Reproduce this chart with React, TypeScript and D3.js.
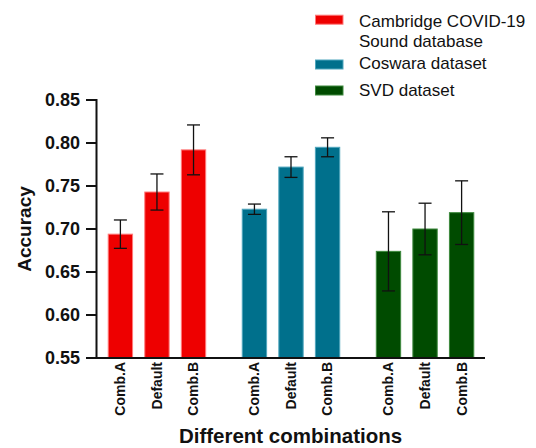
import React from "react";
import * as d3 from "d3";

const groups = ["Cambridge COVID-19 Sound database", "Coswara dataset", "SVD dataset"];
const legendLines = [["Cambridge COVID-19", "Sound database"], ["Coswara dataset"], ["SVD dataset"]];
const combos = ["Comb.A", "Default", "Comb.B"];
const cambridgeMean = [0.694, 0.743, 0.792];
const cambridgeErr = [0.0165, 0.021, 0.029];
const coswaraMean = [0.723, 0.772, 0.795];
const coswaraErr = [0.006, 0.012, 0.011];
const svdMean = [0.674, 0.700, 0.719];
const svdErr = [0.046, 0.030, 0.037];
const yTicks = [0.55, 0.6, 0.65, 0.7, 0.75, 0.8, 0.85];
const fills = ["#ee0000", "#00708c", "#004b00"];
const strokes = ["#ff7a7a", "#4fa6bd", "#3f8a3f"];

const means = [cambridgeMean, coswaraMean, svdMean];
const errs = [cambridgeErr, coswaraErr, svdErr];

export default function App() {
  const W = 536, H = 448;
  const axisX = 96.5, axisY = 358;
  const y = d3.scaleLinear().domain([0.55, 0.85]).range([axisY, 100]);
  const xg = d3.scaleBand<string>().domain(groups).range([102, 480]).paddingInner(0.18).paddingOuter(0);
  const xc = d3.scaleBand<string>().domain(combos).range([0, xg.bandwidth()]).paddingInner(0.334).paddingOuter(0.17);
  const font = "'Liberation Sans', Arial, sans-serif";
  const bw = xc.bandwidth();
  const legendY = [[26.5, 46.5], [69], [96]];
  const swatchY = [19.7, 64.5, 90.5];

  return (
    <svg width={W} height={H} style={{ position: "absolute", left: 0, top: 0 }} fontFamily={font}>
      <rect width={W} height={H} fill="#fff" />
      {groups.map((g, gi) =>
        combos.map((c, ci) => {
          const x0 = (xg(g) as number) + (xc(c) as number);
          const m = means[gi][ci];
          const e = errs[gi][ci];
          const cx = x0 + bw / 2;
          return (
            <g key={g + c}>
              <rect x={x0} y={y(m)} width={bw} height={axisY - y(m)} fill={fills[gi]} stroke={strokes[gi]} strokeWidth={1} />
              <line x1={cx} x2={cx} y1={y(m + e)} y2={y(m - e)} stroke="#111" strokeWidth={1.3} />
              <line x1={cx - 6.5} x2={cx + 6.5} y1={y(m + e)} y2={y(m + e)} stroke="#111" strokeWidth={1.3} />
              <line x1={cx - 6.5} x2={cx + 6.5} y1={y(m - e)} y2={y(m - e)} stroke="#111" strokeWidth={1.3} />
              <text
                transform={`translate(${cx},${axisY + 4}) rotate(-90)`}
                textAnchor="end"
                dy="0.35em"
                fontSize={14}
                fontWeight="bold"
                fill="#111"
              >
                {c}
              </text>
            </g>
          );
        })
      )}
      <line x1={axisX} x2={axisX} y1={y(0.85) - 1} y2={axisY + 1} stroke="#111" strokeWidth={2} />
      <line x1={axisX - 1} x2={485} y1={axisY} y2={axisY} stroke="#111" strokeWidth={2} />
      {yTicks.map((t) => (
        <g key={t}>
          <line x1={axisX - 10.5} x2={axisX} y1={y(t)} y2={y(t)} stroke="#111" strokeWidth={2} />
          <text x={80} y={y(t)} dy="0.36em" textAnchor="end" fontSize={18} fontWeight="bold" fill="#111">
            {t.toFixed(2)}
          </text>
        </g>
      ))}
      <text transform={`translate(31,${(y(0.85) + axisY) / 2}) rotate(-90)`} textAnchor="middle" fontSize={19} fontWeight="bold" fill="#111">
        Accuracy
      </text>
      <text x={290.5} y={443} textAnchor="middle" fontSize={20.5} fontWeight="bold" fill="#111">
        Different combinations
      </text>
      {groups.map((g, gi) => (
        <g key={"leg" + g}>
          <rect x={315.5} y={swatchY[gi] - 4.5} width={27.5} height={9} fill={fills[gi]} stroke={strokes[gi]} strokeWidth={1} />
          {legendLines[gi].map((l, li) => (
            <text key={l} x={359} y={legendY[gi][li]} fontSize={17} fill="#111">
              {l}
            </text>
          ))}
        </g>
      ))}
    </svg>
  );
}
